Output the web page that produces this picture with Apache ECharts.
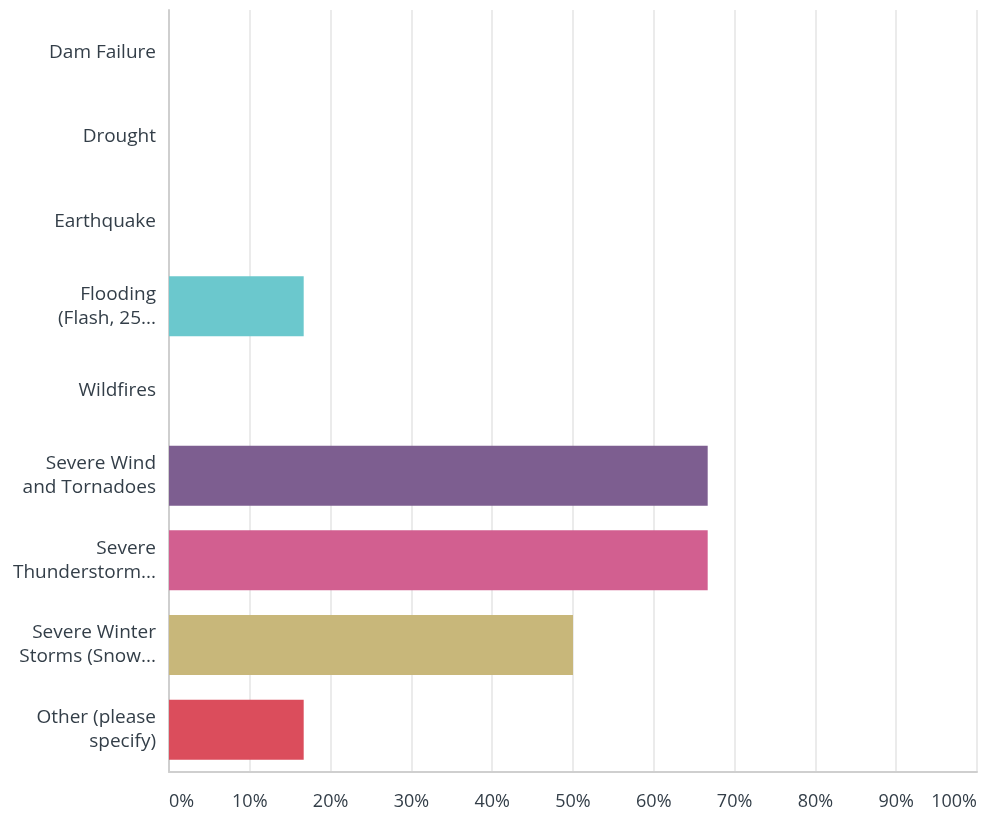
<!DOCTYPE html>
<html>
<head>
<meta charset="utf-8">
<script src="https://cdn.jsdelivr.net/npm/echarts@6/dist/echarts.min.js"></script>
<style>
  html, body { margin: 0; padding: 0; background: #fff; }
  #chart { width: 981px; height: 816px; }
</style>
</head>
<body>
<div id="chart"></div>
<script>
// Answer choices, top to bottom
const categories = [
  'Dam Failure',
  'Drought',
  'Earthquake',
  'Flooding\n(Flash, 25...',
  'Wildfires',
  'Severe Wind\nand Tornadoes',
  'Severe\nThunderstorm...',
  'Severe Winter\nStorms (Snow...',
  'Other (please\nspecify)'
];
// Share of respondents (%)
const percents = [0, 0, 0, 16.67, 0, 66.67, 66.67, 50, 16.67];
const barColors = ['#6BC8CD', '#6BC8CD', '#6BC8CD', '#6BC8CD', '#6BC8CD', '#7D5E90', '#D25F90', '#C8B77A', '#DB4D5C'];
const xTicks = [0, 10, 20, 30, 40, 50, 60, 70, 80, 90, 100];

const labelFont = 'Open Sans';

const chart = echarts.init(document.getElementById('chart'));
chart.setOption({
  animation: false,
  grid: { left: 169, right: 4, top: 10, bottom: 44, containLabel: false },
  xAxis: {
    type: 'value',
    min: 0,
    max: 100,
    interval: 10,
    axisLine: { show: true, lineStyle: { color: '#cfcfcf', width: 2 } },
    axisTick: { show: false },
    splitLine: { show: true, lineStyle: { color: '#ebebeb', width: 2 } },
    axisLabel: {
      margin: 21,
      color: '#333e48',
      fontFamily: labelFont,
      fontSize: 18,
      alignMinLabel: 'left',
      alignMaxLabel: 'right',
      formatter: v => xTicks.includes(v) ? v + '%' : ''
    }
  },
  yAxis: {
    type: 'category',
    data: categories,
    inverse: true,
    axisLine: { show: true, lineStyle: { color: '#cfcfcf', width: 2 } },
    axisTick: { show: false },
    splitLine: { show: false },
    axisLabel: {
      margin: 13,
      color: '#333e48',
      fontFamily: labelFont,
      fontSize: 19,
      lineHeight: 24,
      align: 'right'
    }
  },
  series: [{
    type: 'bar',
    barWidth: 60,
    data: percents.map((v, i) => ({ value: v, itemStyle: { color: barColors[i] } })),
    itemStyle: { borderWidth: 0 }
  }]
});
</script>
</body>
</html>
